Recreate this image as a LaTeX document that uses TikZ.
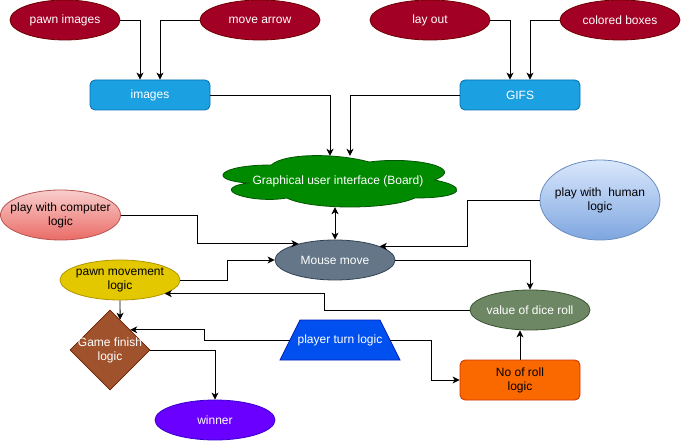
\documentclass[tikz,border=0pt]{standalone}
\usepackage{fontspec}
\setmainfont{Liberation Sans}
\usepackage{tikz}
\usetikzlibrary{positioning}
\usetikzlibrary{shapes.geometric}
\usetikzlibrary{arrows.meta}
\usetikzlibrary{calc}
\definecolor{crimson}{HTML}{A20025}
\definecolor{crimsonline}{HTML}{6F0000}
\definecolor{skyblue}{HTML}{1BA1E2}
\definecolor{skyblueline}{HTML}{006EAF}
\definecolor{leaf}{HTML}{008A00}
\definecolor{leafline}{HTML}{005700}
\definecolor{slate}{HTML}{647687}
\definecolor{slateline}{HTML}{314354}
\definecolor{rosetop}{HTML}{F8CECC}
\definecolor{rosebottom}{HTML}{EA6B66}
\definecolor{roseline}{HTML}{B85450}
\definecolor{icetop}{HTML}{DAE8FC}
\definecolor{icebottom}{HTML}{7EA6E0}
\definecolor{iceline}{HTML}{6C8EBF}
\definecolor{mustard}{HTML}{E3C800}
\definecolor{mustardline}{HTML}{B09500}
\definecolor{sage}{HTML}{6D8764}
\definecolor{sageline}{HTML}{3A5431}
\definecolor{sienna}{HTML}{A0522D}
\definecolor{siennaline}{HTML}{6D1F00}
\definecolor{cobalt}{HTML}{0050EF}
\definecolor{cobaltline}{HTML}{001DBC}
\definecolor{tangerine}{HTML}{FA6800}
\definecolor{tangerineline}{HTML}{C73500}
\definecolor{violet}{HTML}{6A00FF}
\definecolor{violetline}{HTML}{3700CC}
\tikzset{
    game flow/.style={
            x=1pt,y=-1pt,
            font=\fontsize{12}{14}\selectfont,
            arrow/.style={-{Stealth[length=7pt,width=7pt,inset=2pt]},line width=0.9pt},
            both ways/.style={{Stealth[length=7pt,width=7pt,inset=2pt]}-{Stealth[length=7pt,width=7pt,inset=2pt]},line width=0.9pt},
            oval/.style={ellipse,draw,line width=0.8pt,minimum width=120pt,minimum height=40pt,
                inner xsep=-12pt,inner ysep=0pt,align=center},
            idea/.style={oval,fill=crimson,draw=crimsonline,text=white},
            tile/.style={rectangle,rounded corners=5pt,draw,line width=0.8pt,
                minimum width=120pt,minimum height=30pt,align=center},
            cloudfill/.style={fill=leaf,draw=leafline,line width=0.8pt}
        }
    }
\begin{document}
\begin{tikzpicture}[game flow]
        \useasboundingbox (0,0) rectangle (681,441);
        % top row
        \node (pimg) [idea, minimum width=110pt] at (65,20) {pawn images};
        \node (marrow) [idea] at (260,20) {move arrow};
        \node (layout) [idea] at (430,20) {lay out};
        \node (cboxes) [idea] at (620,20) {colored boxes};
        \node (img) [tile, fill=skyblue, draw=skyblueline, text=white] at (150,95) {images};
        \node (gif) [tile, fill=skyblue, draw=skyblueline, text=white] at (520,95) {GIFS};
        % board cloud
        \begin{scope}[shift={(206,150)},x=261pt,y=-60pt]
            \draw [cloudfill] (0.25,0.25) .. controls (0.05,0.25) and (0,0.5) .. (0.16,0.55)
                .. controls (0,0.66) and (0.18,0.9) .. (0.31,0.8)
                .. controls (0.4,1) and (0.7,1) .. (0.8,0.8)
                .. controls (1,0.8) and (1,0.6) .. (0.875,0.5)
                .. controls (1,0.3) and (0.8,0.1) .. (0.625,0.2)
                .. controls (0.5,0.05) and (0.3,0.05) .. (0.25,0.25) -- cycle;
        \end{scope}
        \node (gui) [minimum width=234pt, minimum height=51pt, text=white] at (338,181.5) {Graphical user interface (Board)};
        % players and moves
        \node (pcomp) [oval, top color=rosetop, bottom color=rosebottom, draw=roseline, minimum height=50pt] at (60.5,215) {play with computer\\logic};
        \node (phuman) [oval, top color=icetop, bottom color=icebottom, draw=iceline, minimum height=80pt] at (600,200) {play with\ \ human\\logic};
        \node (mouse) [oval, fill=slate, draw=slateline, text=white] at (335,260) {Mouse move};
        \node (pmove) [oval, fill=mustard, draw=mustardline] at (120,280) {pawn movement\\logic};
        \node (dice) [oval, fill=sage, draw=sageline, text=white] at (530,310) {value of dice roll};
        \node (gfin) [diamond, draw, fill=sienna, draw=siennaline, line width=0.8pt, text=white, align=center,
            minimum width=80pt, minimum height=80pt, inner xsep=-5pt, inner ysep=0pt] at (110,350) {Game finish\\logic};
        \node (pturn) [trapezium, trapezium left angle=63.4, trapezium right angle=63.4, trapezium stretches body,
            draw, fill=cobalt, draw=cobaltline, line width=0.8pt, text=white,
            minimum width=120pt, minimum height=40pt, inner xsep=-2.5pt, inner ysep=14.4pt] at (340,340) {player turn logic};
        \node (roll) [tile, fill=tangerine, draw=tangerineline, minimum height=40pt] at (520,380) {No of roll\\logic};
        \node (winner) [oval, fill=violet, draw=violetline, text=white] at (215,420) {winner};
        % connectors
        \draw [arrow] (pimg.east) -| ([xshift=-10pt]img.north);
        \draw [arrow] (marrow.west) -| ([xshift=10pt]img.north);
        \draw [arrow] (layout.east) -| ([xshift=-10pt]gif.north);
        \draw [arrow] (cboxes.west) -| ([xshift=10pt]gif.north);
        \draw [arrow] (img.east) -| ([xshift=-8pt]gui.north);
        \draw [arrow] (gif.west) -| ([xshift=12pt]gui.north);
        \draw [both ways] (mouse.north |- gui.south) -- (mouse.north);
        \draw [arrow] (pcomp.east) -- ++(77,0) |- (mouse.156);
        \draw [arrow] (phuman.west) -- ++(-72,0) |- (mouse.17);
        \draw [arrow] (pmove.east) -- ++(47,0) |- (mouse.west);
        \draw [arrow] (mouse.east) -| (dice.north);
        \draw [arrow] (dice.west) -- ++(-145,0) |- (pmove.-17);
        \draw [arrow] (pmove.south) -- ($(gfin.north)!0.25!(gfin.east)$);
        \draw [arrow] (pturn.west) -- ++(-85,0) |- ($(gfin.north)!0.5!(gfin.east)$);
        \draw [arrow] (pturn.east) -- ++(41,0) |- (roll.west);
        \draw [arrow] (roll.north) -- (roll.north |- dice.south);
        \draw [arrow] (gfin.east) -| (winner.north);
    \end{tikzpicture}
\end{document}
